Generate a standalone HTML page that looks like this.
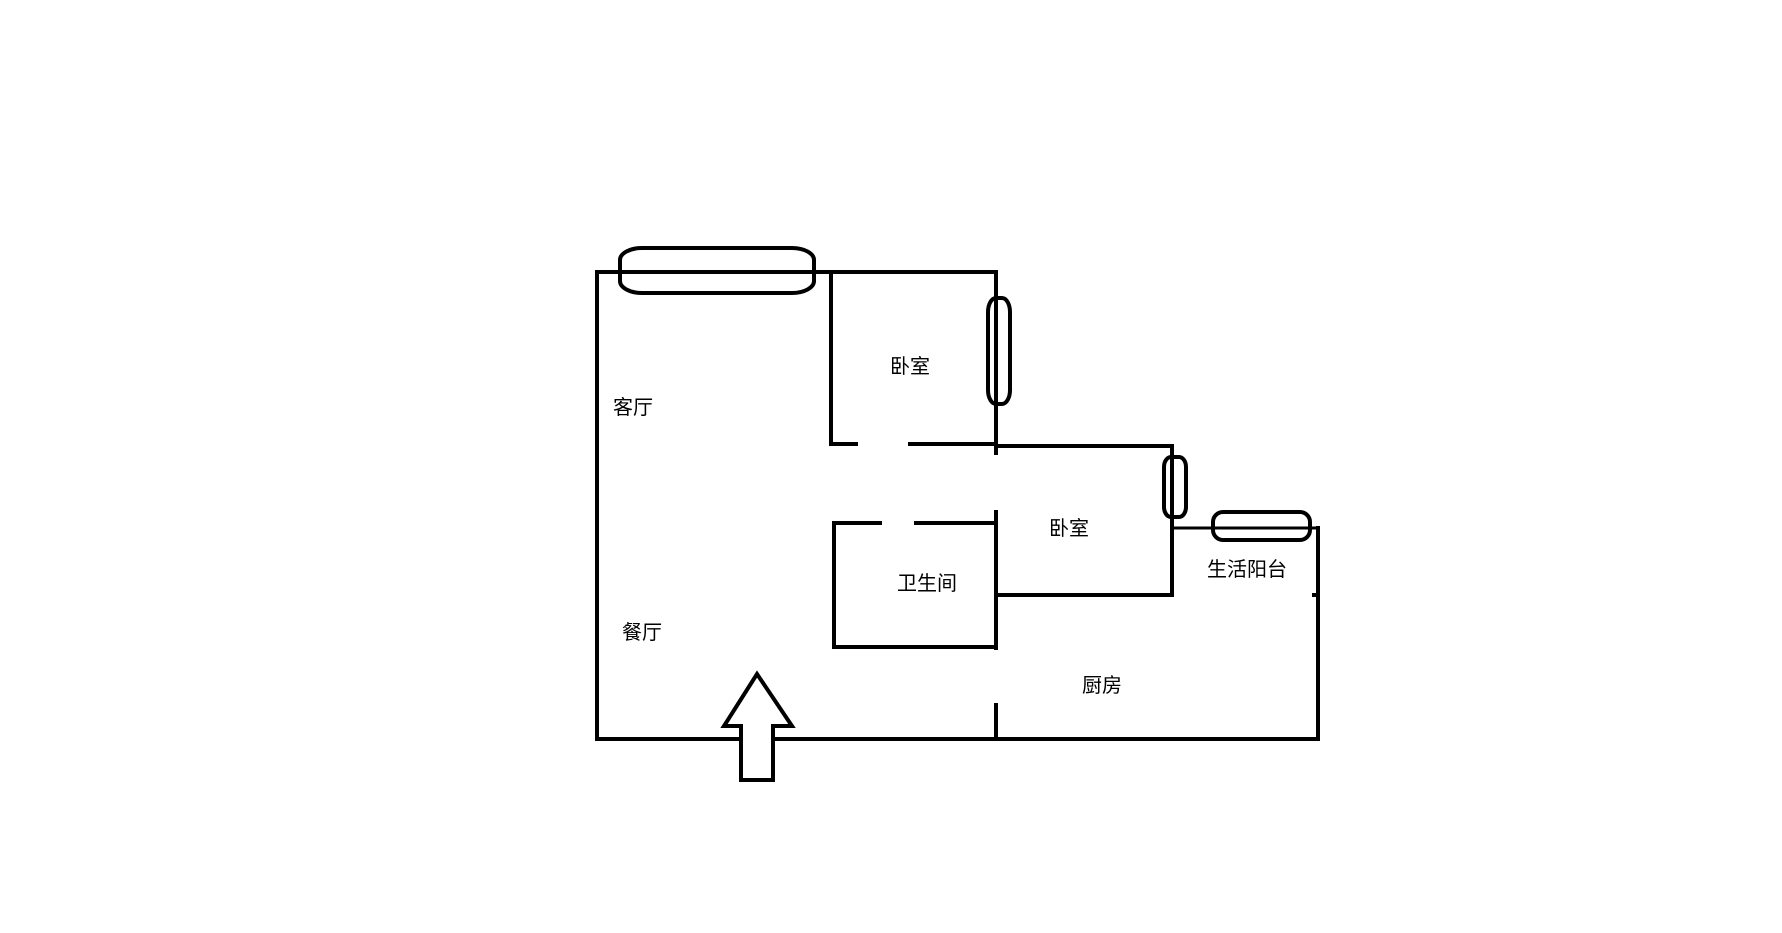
<!DOCTYPE html>
<html><head><meta charset="utf-8"><style>
html,body{margin:0;padding:0;background:#fff;}
svg{display:block}
text{font-family:"Liberation Sans","Noto Sans CJK SC",sans-serif;font-size:20px;fill:#000;text-anchor:middle;dominant-baseline:central}
</style></head><body>
<svg width="1782" height="933" viewBox="0 0 1782 933" xmlns="http://www.w3.org/2000/svg">
<g stroke="#000" stroke-width="4" fill="none" stroke-linecap="square">
<!-- outer -->
<polyline points="597,272 996,272 996,453"/>
<line x1="597" y1="272" x2="597" y2="739"/>
<line x1="597" y1="739" x2="1318" y2="739"/>
<line x1="1318" y1="528" x2="1318" y2="739"/>
<line x1="1172" y1="528" x2="1318" y2="528" stroke-width="3"/>
<line x1="1314" y1="595" x2="1318" y2="595"/>
<!-- bedroom 1 -->
<polyline points="856,444 831,444 831,272"/>
<line x1="910" y1="444" x2="996" y2="444"/>
<!-- bedroom 2 -->
<polyline points="996,446 1172,446 1172,595 996,595"/>
<line x1="996" y1="512" x2="996" y2="648"/>
<line x1="996" y1="705" x2="996" y2="739"/>
<!-- bathroom -->
<polyline points="880,523 834,523 834,647 996,647"/>
<line x1="916" y1="523" x2="996" y2="523"/>
<!-- windows -->
<rect x="620" y="248" width="194" height="45" rx="22" ry="12"/>
<rect x="988" y="298" width="22" height="106" rx="8" ry="14"/>
<rect x="1164" y="457" width="22" height="60" rx="7" ry="10"/>
<rect x="1213" y="512" width="97" height="28" rx="10" ry="10"/>
<!-- arrow -->
<polygon points="757,674 792,726 773,726 773,780 741,780 741,726 724,726" fill="#fff"/>
</g>
<text x="633" y="408">客厅</text>
<text x="910" y="367">卧室</text>
<text x="1069" y="529">卧室</text>
<text x="927" y="584">卫生间</text>
<text x="1247" y="570">生活阳台</text>
<text x="642" y="633">餐厅</text>
<text x="1102" y="686">厨房</text>
</svg>
</body></html>
